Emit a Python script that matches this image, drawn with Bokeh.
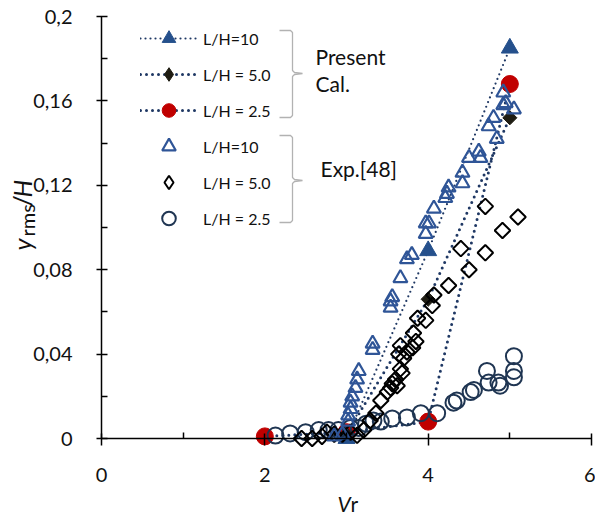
import numpy as np
from bokeh.plotting import figure
from bokeh.models import Range1d, FixedTicker, Label, Legend, LegendItem, PolyAnnotation
from bokeh.embed import file_html
from bokeh.resources import INLINE

# ---------------- data ----------------
calc10_x = [3.0, 4.0, 5.0]
calc10_y = [0.0, 0.089, 0.185]
calc5_x = [3.0, 4.0, 5.0]
calc5_y = [0.002, 0.066, 0.152]
calc25_x = [2.0, 3.0, 4.0, 5.0]
calc25_y = [0.001, 0.003, 0.008, 0.168]

exp10_x = [2.85, 2.95, 3.02, 3.02, 3.05, 3.05, 3.07, 3.11, 3.13, 3.15,
           3.32, 3.32, 3.54, 3.54, 3.56, 3.66, 3.74, 3.80, 3.97, 3.97,
           4.01, 4.07, 4.21, 4.23, 4.25, 4.42, 4.42, 4.50, 4.62, 4.64,
           4.74, 4.80, 4.84, 4.92, 4.92, 4.95, 5.05]
exp10_y = [0.001, 0.002, 0.008, 0.011, 0.014, 0.017, 0.020, 0.024, 0.028, 0.032,
           0.042, 0.045, 0.062, 0.065, 0.067, 0.076, 0.085, 0.087, 0.097, 0.102,
           0.102, 0.109, 0.114, 0.116, 0.119, 0.121, 0.126, 0.133, 0.136, 0.133,
           0.148, 0.152, 0.142, 0.158, 0.164, 0.159, 0.156]

exp5_x = [2.45, 2.58, 2.70, 2.76, 2.85, 2.95, 3.05, 3.13, 3.21, 3.29,
          3.36, 3.42, 3.50, 3.54, 3.56, 3.60, 3.62, 3.64, 3.66, 3.68,
          3.70, 3.74, 3.81, 3.82, 3.85, 3.87, 3.97, 4.05, 4.07, 4.25,
          4.40, 4.50, 4.70, 4.70, 4.91, 5.10, 3.66]
exp5_y = [0.000, 0.000, 0.001, 0.003, 0.002, 0.002, 0.003, 0.0015, 0.004, 0.0085,
          0.012, 0.018, 0.022, 0.024, 0.026, 0.028, 0.025, 0.040, 0.033, 0.031,
          0.038, 0.041, 0.043, 0.050, 0.046, 0.057, 0.056, 0.063, 0.068, 0.0725,
          0.090, 0.080, 0.088, 0.110, 0.0986, 0.105, 0.044]

exp25_x = [2.13, 2.31, 2.50, 2.66, 2.78, 2.90, 3.05, 3.15, 3.24, 3.33,
           3.42, 3.56, 3.74, 3.91, 4.11, 4.31, 4.35, 4.52, 4.56, 4.72,
           4.74, 4.86, 4.88, 5.05, 5.05, 5.05]
exp25_y = [0.0014, 0.0024, 0.003, 0.004, 0.004, 0.004, 0.005, 0.005, 0.007, 0.0085,
           0.008, 0.0095, 0.010, 0.012, 0.012, 0.017, 0.018, 0.022, 0.023, 0.032,
           0.0265, 0.0265, 0.025, 0.039, 0.032, 0.029]

x_ticks = [0, 2, 4, 6]
x_tick_labels = ["0", "2", "4", "6"]
y_ticks = [0, 0.04, 0.08, 0.12, 0.16, 0.2]
y_tick_labels = ["0", "0,04", "0,08", "0,12", "0,16", "0,2"]
x_minor = [1, 3, 5]
y_minor = [0.02, 0.06, 0.10, 0.14, 0.18]
x_bounds = (0, 6)
y_bounds = (0, 0.2)

legend_labels = ["L/H=10", "L/H = 5.0", "L/H = 2.5", "L/H=10", "L/H = 5.0", "L/H = 2.5"]

# ---------------- layout ----------------
W, H = 595, 515
AX_LEFT, AX_RIGHT = 101, 591     # page px of x = 0 and x = 6
AX_TOP, AX_BOTTOM = 16, 438      # page px of y = 0.2 and y = 0
kx = (x_bounds[1] - x_bounds[0]) / (AX_RIGHT - AX_LEFT)
ky = (y_bounds[1] - y_bounds[0]) / (AX_BOTTOM - AX_TOP)
x_range = Range1d(x_bounds[0] - AX_LEFT * kx, x_bounds[1] + (W - AX_RIGHT) * kx)
y_range = Range1d(y_bounds[0] - (H - AX_BOTTOM) * ky, y_bounds[1] + AX_TOP * ky)

FONT = "Lato"
BLUE = "#2F5597"
BLUE_F = "#25508C"
NAVY = "#1F3552"
RED = "#C00000"
DARK = "#1E1C12"
LINE = "#1F3864"
TXT = "#111111"

p = figure(width=W, height=H, output_backend="svg", toolbar_location=None,
           x_range=x_range, y_range=y_range,
           min_border=0, min_border_left=0, min_border_right=0,
           min_border_top=0, min_border_bottom=0)
p.outline_line_color = None
p.xgrid.visible = False
p.ygrid.visible = False
p.background_fill_color = "white"
p.border_fill_color = "white"

for ax in (p.xaxis[0], p.yaxis[0]):
    ax.fixed_location = 0
    ax.axis_line_color = "black"
    ax.axis_line_width = 1.5
    ax.major_tick_line_color = "black"
    ax.major_tick_line_width = 1.5
    ax.minor_tick_line_color = "black"
    ax.minor_tick_line_width = 1.5
    ax.major_label_text_font = FONT
    ax.major_label_text_font_size = "20px"
    ax.major_label_text_color = TXT
    ax.axis_label = None

p.xaxis[0].bounds = x_bounds
p.xaxis[0].ticker = FixedTicker(ticks=x_ticks, minor_ticks=x_minor)
p.xaxis[0].major_label_overrides = dict(zip(x_ticks, x_tick_labels))
p.xaxis[0].major_tick_in = 5
p.xaxis[0].major_tick_out = 7
p.xaxis[0].minor_tick_in = 6
p.xaxis[0].minor_tick_out = 0
p.xaxis[0].major_label_standoff = 22

p.yaxis[0].bounds = y_bounds
p.yaxis[0].ticker = FixedTicker(ticks=y_ticks, minor_ticks=y_minor)
p.yaxis[0].major_label_overrides = dict(zip(y_ticks, y_tick_labels))
p.yaxis[0].major_tick_in = 6
p.yaxis[0].major_tick_out = 5
p.yaxis[0].minor_tick_in = 6
p.yaxis[0].minor_tick_out = 0
p.yaxis[0].major_label_standoff = 24

# ---------------- calculated lines + markers ----------------
l10 = p.line(calc10_x, calc10_y, line_color=LINE, line_width=2.2, line_dash="0 5", line_cap="round")
l5 = p.line(calc5_x, calc5_y, line_color=LINE, line_width=3, line_dash="0 6", line_cap="round")
l25 = p.line(calc25_x, calc25_y, line_color=LINE, line_width=3, line_dash="0 6", line_cap="round")

s25 = p.scatter(calc25_x, calc25_y, marker="circle", size=17, fill_color=RED, line_color=RED)
s5 = p.scatter(calc5_x, calc5_y, marker="square", angle=np.pi / 4, size=10, fill_color=DARK, line_color=DARK)
s10 = p.scatter(calc10_x, calc10_y, marker="triangle", size=17, fill_color=BLUE_F, line_color=BLUE_F)

# ---------------- experimental markers ----------------
e25 = p.scatter(exp25_x, exp25_y, marker="circle", size=16, fill_alpha=0,
                line_color=NAVY, line_width=2)
e5 = p.scatter(exp5_x, exp5_y, marker="square", angle=np.pi / 4, size=11, fill_alpha=0,
               line_color="black", line_width=2)
e10 = p.scatter(exp10_x, exp10_y, marker="triangle", size=14, fill_alpha=0,
                line_color=BLUE, line_width=2.2)

# legend keys for the diamonds (the legend does not rotate markers); hidden in the plot
s5_key = p.scatter(calc5_x, calc5_y, marker="diamond", size=16, fill_color=DARK,
                   line_color=DARK, visible=False)
e5_key = p.scatter(exp5_x, exp5_y, marker="diamond", size=17, fill_alpha=0,
                   line_color="black", line_width=2, visible=False)

groups = [[l10, s10], [l5, s5_key], [l25, s25], [e10], [e5_key], [e25]]
items = [LegendItem(label=lab, renderers=r) for lab, r in zip(legend_labels, groups)]
legend = Legend(items=items, location=(135, 275), glyph_width=57, glyph_height=34,
                label_height=34, spacing=2, padding=5, margin=0, label_standoff=6,
                label_text_font=FONT, label_text_font_size="16px", label_text_color=TXT,
                background_fill_alpha=0, border_line_alpha=0, inactive_fill_alpha=0)
p.add_layout(legend)


# ---------------- braces and group labels (frame == whole canvas) ----------------
def sx(px):
    return px


def sy(py):
    return H - py


def brace(top, bottom, mid, xl=279, xv=292, xn=302):
    pts = [(xl, top), (xv - 2, top), (xv, top + 2), (xv, mid - 3), (xv + 2, mid - 1),
           (xn, mid), (xv + 2, mid + 1), (xv, mid + 3), (xv, bottom - 2), (xv - 2, bottom),
           (xl, bottom)]
    path = pts + pts[::-1][1:-1]
    return PolyAnnotation(xs=[sx(a) for a, b in path], ys=[sy(b) for a, b in path],
                          xs_units="screen", ys_units="screen",
                          fill_alpha=0, line_color="black", line_width=1.3)


p.add_layout(brace(30, 117, 73))
p.add_layout(brace(135, 222, 180))


def label(txt, px, py, size, style="normal", angle=0.0):
    p.add_layout(Label(x=sx(px), y=sy(py), x_units="screen", y_units="screen", text=txt,
                       angle=angle, text_font=FONT, text_font_style=style,
                       text_font_size=size, text_color=TXT,
                       text_baseline="alphabetic", text_align="left"))


label("Present", 315, 56, "21px")
label("Cal.", 315, 83, "21px")
label("Exp.[48]", 320, 168, "21px")

# x-axis title: Vr (V italic)
label("V", 337, 503, "21px", "italic")
label("r", 350, 503, "21px")

# y-axis title: y_rms/H, rotated
ang = np.pi / 2
label("y", 21, 250, "25px", "italic", ang)
label("rms", 26, 236, "20px", "normal", ang)
label("/", 21, 206, "25px", "normal", ang)
label("H", 21, 197, "25px", "italic", ang)

open("out.html", "w").write(file_html(p, INLINE))
